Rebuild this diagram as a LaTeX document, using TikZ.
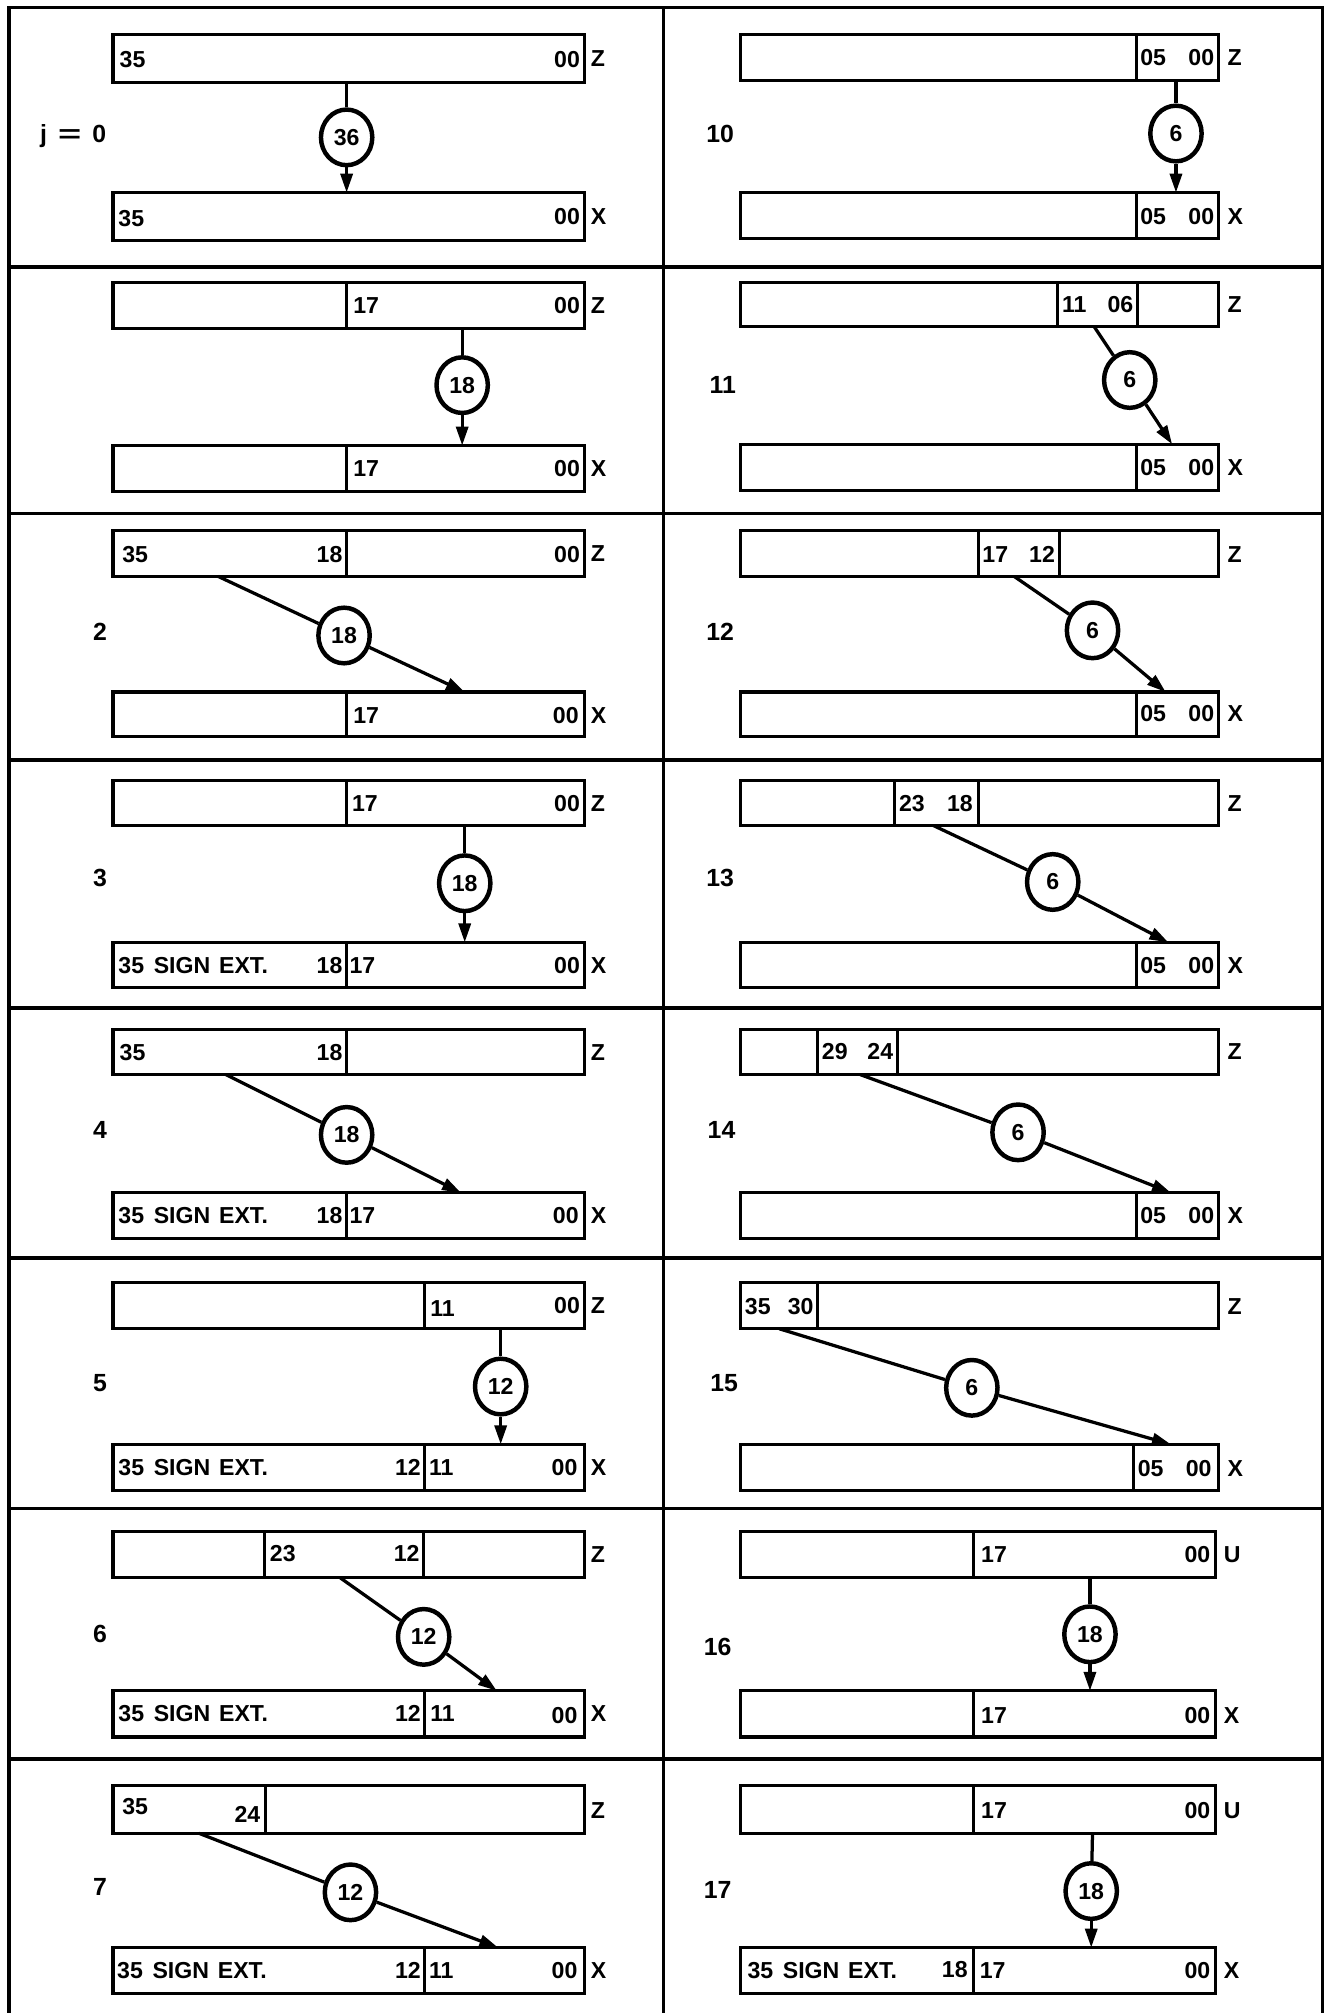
\documentclass[tikz,border=0pt]{standalone}
\usepackage{fontspec}
\setmainfont{Liberation Sans}
\usetikzlibrary{arrows.meta,shapes.geometric}
\newcounter{tn}
\tikzset{
 x=0.75pt, y=-0.75pt,
 regbox/.style={draw, line width=1.8pt, inner sep=0pt, outer sep=0pt},
 regline/.style={line width=1.8pt},
 frameline/.style={line width=2pt},
 bitcircle/.style={ellipse, draw, line width=2.6pt, minimum width=30pt, minimum height=32.5pt, inner sep=0pt, fill=white, font=\bfseries\fontsize{13.5}{15}\selectfont},
 lbl/.style={inner sep=0pt, font=\bfseries\fontsize{13.5}{15}\selectfont},
 rowno/.style={inner sep=0pt, font=\bfseries\fontsize{14.5}{16}\selectfont},
 conn/.style={line width=1.9pt},
 arr/.style={line width=1.9pt, -{Triangle[length=11pt,width=7pt]}},
}
\newcommand\Reg[5]{\node[regbox, minimum width={(#3-#2)*0.75pt}, minimum height={(#5-#4)*0.75pt}] (#1) at ({(#2+#3)/2},{(#4+#5)/2}) {};}
\newcommand\Div[3]{\draw[regline] (#1,#2) -- (#1,#3);}
\newcommand\T[4]{\stepcounter{tn}\node[lbl, anchor=#1] (t\arabic{tn}) at (#2,#3) {#4};}
\newcommand\Conn[8]{\coordinate (#1s) at (#2,#3); \node[bitcircle] (#1c) at (#4,#5) {#8}; \coordinate (#1e) at (#6,#7); \draw[conn] (#1s) -- (#1c); \draw[arr] (#1c) -- (#1e);}
\newcommand\signext{35\hspace{0.42em}SIGN\hspace{0.38em}EXT.}
\begin{document}
\begin{tikzpicture}
\useasboundingbox (0,0) rectangle (1037,1568);
\fill[white] (0,0) rectangle (1037,1568);
% frame
\draw[frameline] (7,1568) -- (7,6) -- (1030,6) -- (1030,1568);
\draw[frameline] (517,6) -- (517,1568);
\foreach \y in {208,400,592,785,980,1175,1370} \draw[frameline] (7,\y) -- (1030,\y);
% ---------- left column
% row 0
\Reg{L0z}{88}{455}{27}{64}
\T{west}{93}{46.5}{35} \T{east}{452}{46.5}{00} \T{west}{460}{45.5}{Z}
\Reg{L0x}{88}{455}{150}{187}
\T{west}{92}{170}{35} \T{east}{452}{169}{00} \T{west}{460}{169}{X}
\node[rowno] (n0) at (57,106) {j\hspace{0.45em}\scalebox{1.6}[1]{=}\hspace{0.45em}0};
\Conn{L0}{270}{64}{270}{107}{270}{150}{36}
% row 1
\Reg{L1z}{88}{455}{220}{256} \Div{270}{220}{256}
\T{west}{275}{238}{17} \T{east}{452}{238}{00} \T{west}{460}{238}{Z}
\Reg{L1x}{88}{455}{347}{383} \Div{270}{347}{383}
\T{west}{275}{365}{17} \T{east}{452}{365}{00} \T{west}{460}{365}{X}
\Conn{L1}{360}{256}{360}{300}{360}{347}{18}
% row 2
\Reg{L2z}{88}{455}{413}{449} \Div{270}{413}{449}
\T{west}{95}{432}{35} \T{east}{267}{432}{18} \T{east}{452}{432}{00} \T{west}{460}{431}{Z}
\Reg{L2x}{88}{455}{539}{574} \Div{270}{539}{574}
\T{west}{275}{557}{17} \T{east}{451}{557}{00} \T{west}{460}{557}{X}
\node[rowno] (n2) at (78,492) {2};
\Conn{L2}{170}{449}{268}{495}{362}{539}{18}
% row 3
\Reg{L3z}{88}{455}{608}{643} \Div{270}{608}{643}
\T{west}{274}{626}{17} \T{east}{452}{626}{00} \T{west}{460}{626}{Z}
\Reg{L3x}{88}{455}{734}{769} \Div{270}{734}{769}
\T{west}{92}{752}{\signext} \T{east}{267}{752}{18} \T{west}{272}{752}{17} \T{east}{452}{752}{00} \T{west}{460}{752}{X}
\node[rowno] (n3) at (78,684) {3};
\Conn{L3}{362}{643}{362}{688}{362}{734}{18}
% row 4
\Reg{L4z}{88}{455}{802}{837} \Div{270}{802}{837}
\T{west}{93}{820}{35} \T{east}{267}{820}{18} \T{west}{460}{820}{Z}
\Reg{L4x}{88}{455}{929}{965} \Div{270}{929}{965}
\T{west}{92}{947}{\signext} \T{east}{267}{947}{18} \T{west}{272}{947}{17} \T{east}{451}{947}{00} \T{west}{460}{947}{X}
\node[rowno] (n4) at (78,880) {4};
\Conn{L4}{176}{837}{270}{884}{359}{929}{18}
% row 5
\Reg{L5z}{88}{455}{999}{1035} \Div{331}{999}{1035}
\T{west}{335}{1019}{11} \T{east}{452}{1017}{00} \T{west}{460}{1017}{Z}
\Reg{L5x}{88}{455}{1125}{1161} \Div{331}{1125}{1161}
\T{west}{92}{1143}{\signext} \T{east}{328}{1143}{12} \T{west}{334}{1143}{11} \T{east}{450}{1143}{00} \T{west}{460}{1143}{X}
\node[rowno] (n5) at (78,1077) {5};
\Conn{L5}{390}{1035}{390}{1080}{390}{1125}{12}
% row 6
\Reg{L6z}{88}{455}{1193}{1229} \Div{206}{1193}{1229} \Div{330}{1193}{1229}
\T{west}{210}{1210}{23} \T{east}{327}{1210}{12} \T{west}{460}{1211}{Z}
\Reg{L6x}{88}{455}{1317}{1353} \Div{331}{1317}{1353}
\T{west}{92}{1335}{\signext} \T{east}{328}{1335}{12} \T{west}{335}{1335}{11} \T{east}{450}{1336}{00} \T{west}{460}{1335}{X}
\node[rowno] (n6) at (78,1273) {6};
\Conn{L6}{265}{1229}{330}{1275}{387}{1317}{12}
% row 7
\Reg{L7z}{88}{455}{1391}{1428} \Div{207}{1391}{1428}
\T{west}{95}{1407}{35} \T{east}{203}{1413}{24} \T{west}{460}{1410}{Z}
\Reg{L7x}{88}{455}{1517}{1553} \Div{331}{1517}{1553}
\T{west}{91}{1535}{\signext} \T{east}{328}{1535}{12} \T{west}{334}{1535}{11} \T{east}{450}{1535}{00} \T{west}{460}{1535}{X}
\node[rowno] (n7) at (78,1470) {7};
\Conn{L7}{155}{1428}{273}{1474}{388}{1517}{12}
% ---------- right column
% row 10
\Reg{R0z}{577}{949}{27}{63} \Div{885}{27}{63}
\T{west}{888}{45}{05} \T{east}{946}{45}{00} \T{west}{956}{45}{Z}
\Reg{R0x}{577}{949}{150}{186} \Div{885}{150}{186}
\T{west}{888}{169}{05} \T{east}{946}{169}{00} \T{west}{956}{169}{X}
\node[rowno] (n10) at (561,104) {10};
\Conn{R0}{916}{63}{916}{104}{916}{150}{6}
% row 11
\Reg{R1z}{577}{949}{220}{254} \Div{824}{220}{254} \Div{886}{220}{254}
\T{west}{827}{237}{11} \T{east}{883}{237}{06} \T{west}{956}{237}{Z}
\Reg{R1x}{577}{949}{346}{382} \Div{885}{346}{382}
\T{west}{888}{364}{05} \T{east}{946}{364}{00} \T{west}{956}{364}{X}
\node[rowno] (n11) at (563,300) {11};
\Conn{R1}{852}{254}{880}{296}{913}{346}{6}
% row 12
\Reg{R2z}{577}{949}{413}{449} \Div{762}{413}{449} \Div{825}{413}{449}
\T{west}{765}{432}{17} \T{east}{822}{432}{12} \T{west}{956}{432}{Z}
\Reg{R2x}{577}{949}{539}{574} \Div{885}{539}{574}
\T{west}{888}{556}{05} \T{east}{946}{556}{00} \T{west}{956}{556}{X}
\node[rowno] (n12) at (561,492) {12};
\Conn{R2}{790}{449}{851}{491}{908}{539}{6}
% row 13
\Reg{R3z}{577}{949}{608}{643} \Div{697}{608}{643} \Div{762}{608}{643}
\T{west}{700}{626}{23} \T{east}{758}{626}{18} \T{west}{956}{626}{Z}
\Reg{R3x}{577}{949}{734}{769} \Div{885}{734}{769}
\T{west}{888}{752}{05} \T{east}{946}{752}{00} \T{west}{956}{752}{X}
\node[rowno] (n13) at (561,684) {13};
\Conn{R3}{727}{643}{820}{687}{910}{734}{6}
% row 14
\Reg{R4z}{577}{949}{802}{837} \Div{637}{802}{837} \Div{699}{802}{837}
\T{west}{640}{819}{29} \T{east}{696}{819}{24} \T{west}{956}{819}{Z}
\Reg{R4x}{577}{949}{929}{965} \Div{885}{929}{965}
\T{west}{888}{947}{05} \T{east}{946}{947}{00} \T{west}{956}{947}{X}
\node[rowno] (n14) at (562,880) {14};
\Conn{R4}{670}{837}{793}{882}{912}{929}{6}
% row 15
\Reg{R5z}{577}{949}{999}{1035} \Div{637}{999}{1035}
\T{west}{580}{1018}{35} \T{east}{634}{1018}{30} \T{west}{956}{1018}{Z}
\Reg{R5x}{577}{949}{1125}{1161} \Div{883}{1125}{1161}
\T{west}{886}{1144}{05} \T{east}{944}{1144}{00} \T{west}{956}{1144}{X}
\node[rowno] (n15) at (564,1077) {15};
\Conn{R5}{607}{1035}{757}{1081}{912}{1125}{6}
% row 16
\Reg{R6z}{577}{947}{1193}{1229} \Div{758}{1193}{1229}
\T{west}{764}{1211}{17} \T{east}{943}{1211}{00} \T{west}{953}{1211}{U}
\Reg{R6x}{577}{947}{1317}{1353} \Div{758}{1317}{1353}
\T{west}{764}{1336}{17} \T{east}{943}{1336}{00} \T{west}{953}{1336}{X}
\node[rowno] (n16) at (559,1283) {16};
\Conn{R6}{849}{1229}{849}{1273}{849}{1317}{18}
% row 17
\Reg{R7z}{577}{947}{1391}{1428} \Div{758}{1391}{1428}
\T{west}{764}{1410}{17} \T{east}{943}{1410}{00} \T{west}{953}{1410}{U}
\Reg{R7x}{577}{947}{1517}{1553} \Div{758}{1517}{1553}
\T{west}{582}{1535}{\signext} \T{east}{754}{1534}{18} \T{west}{763}{1535}{17} \T{east}{943}{1535}{00} \T{west}{953}{1535}{X}
\node[rowno] (n17) at (559,1472) {17};
\Conn{R7}{851}{1428}{850}{1473}{850}{1517}{18}
\end{tikzpicture}
\end{document}
